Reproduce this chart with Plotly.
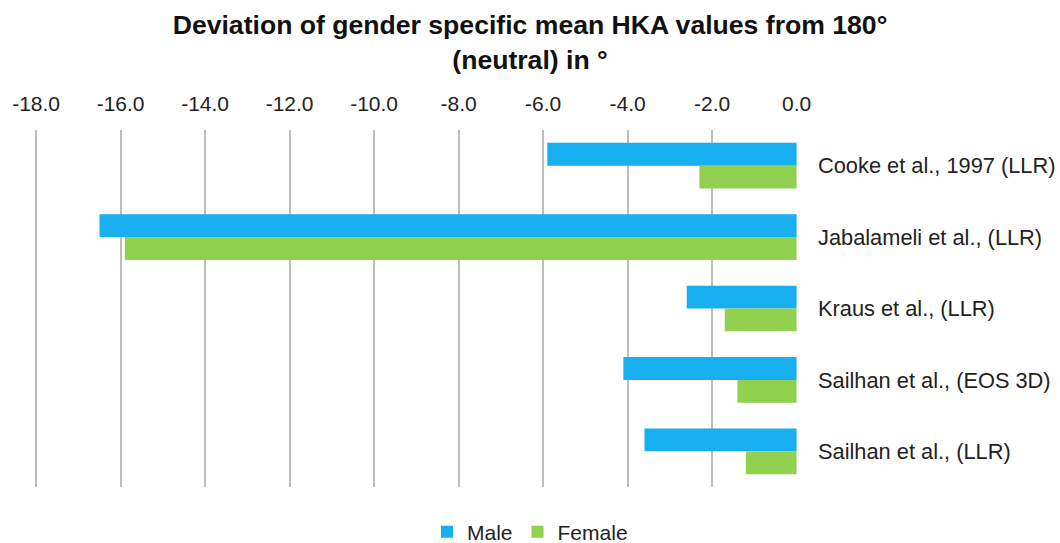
import plotly.graph_objects as go

categories = ["Cooke et al., 1997 (LLR)", "Jabalameli et al., (LLR)", "Kraus et al., (LLR)",
              "Sailhan et al., (EOS 3D)", "Sailhan et al., (LLR)"]
male = [-5.9, -16.5, -2.6, -4.1, -3.6]
female = [-2.3, -15.9, -1.7, -1.4, -1.2]
tick_vals = [-18, -16, -14, -12, -10, -8, -6, -4, -2, 0]
tick_text = ["%.1f" % v for v in tick_vals]

fig = go.Figure()
fig.add_trace(go.Bar(y=categories, x=male, name="Male", orientation="h",
                     marker=dict(color="#17AFEF", line=dict(width=0))))
fig.add_trace(go.Bar(y=categories, x=female, name="Female", orientation="h",
                     marker=dict(color="#92D050", line=dict(width=0))))

font_family = "Liberation Sans, Arial, sans-serif"
fig.update_layout(
    width=1060, height=543,
    margin=dict(l=34, r=263, t=130, b=56, autoexpand=False),
    paper_bgcolor="white", plot_bgcolor="white",
    barmode="group", bargap=0.36, bargroupgap=0,
    font=dict(family=font_family, size=21, color="#222222"),
    title=dict(text="<b>Deviation of gender specific mean HKA values from 180°<br>(neutral) in °</b>",
               x=0.5, xref="container", xanchor="center",
               y=1 - 34 / 543, yref="container", yanchor="middle",
               font=dict(family=font_family, size=26.6, color="#111111")),
    xaxis=dict(side="top", range=[-18.05, 0.01], tickmode="array", tickvals=tick_vals, ticktext=tick_text,
               tickangle=0, automargin=False,
               showgrid=True, gridcolor="#BDBDBD", gridwidth=1.5,
               zeroline=False, showline=False, ticks="", ticklabelstandoff=14,
               tickfont=dict(size=21, color="#222222")),
    yaxis=dict(side="right", autorange="reversed", showgrid=False, zeroline=False,
               showline=False, ticks="", ticklabelstandoff=20, automargin=False,
               tickfont=dict(size=21.8, color="#222222")),
    legend=dict(orientation="h", x=0.5, xref="container", xanchor="center",
                y=-(532 - 487) / 357, yanchor="middle", traceorder="normal",
                font=dict(size=21, color="#222222"), itemwidth=30),
    showlegend=True,
)

fig.write_html("out.html", config={"displayModeBar": False},
               post_script="document.body.style.margin='0px';")
